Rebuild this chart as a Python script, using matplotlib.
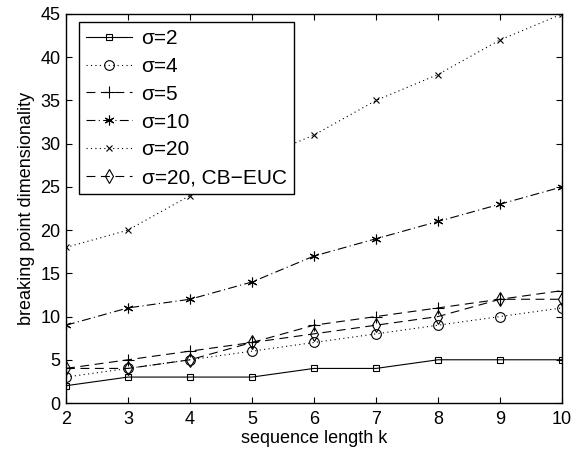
import matplotlib
matplotlib.use("Agg")
import matplotlib.pyplot as plt

plt.rcParams['font.family'] = ['Liberation Sans', 'DejaVu Sans']

k = [2, 3, 4, 5, 6, 7, 8, 9, 10]
s2 = [2, 3, 3, 3, 4, 4, 5, 5, 5]
s4 = [3, 4, 5, 6, 7, 8, 9, 10, 11]
s5 = [4, 5, 6, 7, 9, 10, 11, 12, 13]
s10 = [9, 11, 12, 14, 17, 19, 21, 23, 25]
s20 = [18, 20, 24, 28, 31, 35, 38, 42, 45]
s20cb = [4, 4, 5, 7, 8, 9, 10, 12, 12]
labels = ['σ=2', 'σ=4', 'σ=5', 'σ=10', 'σ=20', 'σ=20, CB−EUC']

fig = plt.figure(figsize=(5.74, 4.57), dpi=100)
ax = fig.add_axes([66/574, 1-403/457, (562-66)/574, (403-14)/457])

lw = 0.8
dot = (1, 3)
ax.plot(k, s2, '-', color='k', lw=lw, marker='s', ms=5, mfc='none', mew=0.8, label=labels[0])
ax.plot(k, s4, ':', color='k', lw=lw, marker='o', ms=7, mfc='none', mew=0.8, label=labels[1], dashes=dot)
ax.plot(k, s5, '--', color='k', lw=lw, marker='+', ms=8, mfc='none', mew=0.8, label=labels[2], dashes=(8, 5))
ax.plot(k, s10, '-.', color='k', lw=lw, marker=(6, 2, 0), ms=7, mfc='none', mew=0.8, label=labels[3], dashes=(8, 3, 1, 3))
ax.plot(k, s20, ':', color='k', lw=lw, marker='x', ms=5, mfc='none', mew=0.8, label=labels[4], dashes=dot)
ax.plot(k, s20cb, '--', color='k', lw=lw, marker='d', ms=7, mfc='none', mew=0.8, label=labels[5], dashes=(8, 5))

ax.set_xlim(2, 10)
ax.set_ylim(0, 45)
ax.set_xticks(k)
ax.set_yticks(range(0, 46, 5))
ax.tick_params(direction='in', top=True, right=True, labelsize=13, length=4, width=0.8)
ax.tick_params(axis='x', pad=6)
ax.tick_params(axis='y', pad=4)
for sp in ax.spines.values():
    sp.set_linewidth(1.0)
ax.set_xlabel('sequence length k', fontsize=13, labelpad=1)
ax.set_ylabel('breaking point dimensionality', fontsize=13, labelpad=4)

leg = ax.legend(loc='upper left', bbox_to_anchor=(13/496, 1-8/389), borderaxespad=0,
                fontsize=15, frameon=True, fancybox=False,
                edgecolor='k', framealpha=1, handlelength=2.2,
                labelspacing=0.42, borderpad=0.35, handletextpad=0.45)
leg.get_frame().set_linewidth(1.0)

fig.savefig('out.png', dpi=100)
